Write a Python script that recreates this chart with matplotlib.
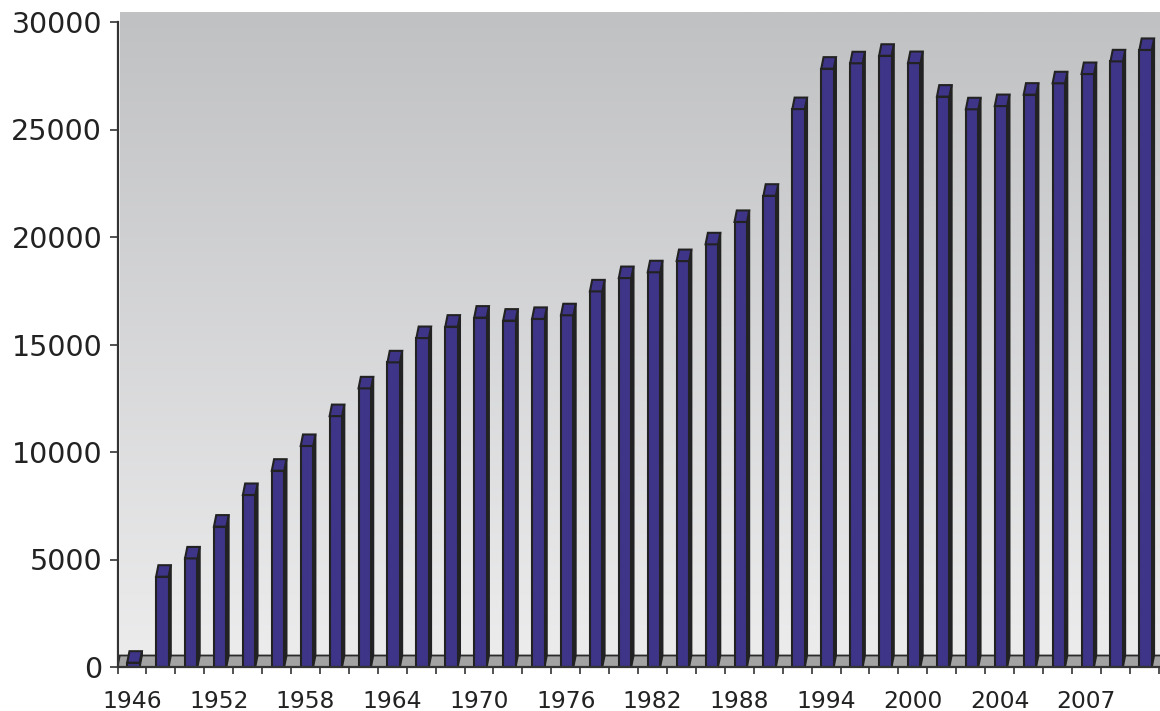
import numpy as np
import matplotlib
matplotlib.use("Agg")
import matplotlib.pyplot as plt
from matplotlib.patches import Polygon

# Category labels (one bar per category) and bar heights
years = [1946, 1948, 1950, 1952, 1954, 1956, 1958, 1960, 1962, 1964,
         1966, 1968, 1970, 1972, 1974, 1976, 1978, 1980, 1982, 1984,
         1986, 1988, 1990, 1992, 1994, 1996, 1998, 2000, 2002, 2003,
         2004, 2005, 2006, 2007, 2008, 2009]
values = [200, 4200, 5050, 6530, 8000, 9130, 10280, 11670, 12960, 14170,
          15300, 15830, 16250, 16110, 16190, 16360, 17470, 18090, 18360, 18880,
          19660, 20700, 21920, 25950, 27830, 28080, 28430, 28090, 26530, 25940,
          26090, 26620, 27150, 27580, 28170, 28700]
y_ticks = [0, 5000, 10000, 15000, 20000, 25000, 30000]
label_every = 3

W, H, DPI = 1160, 711, 100
fig = plt.figure(figsize=(W / DPI, H / DPI), dpi=DPI, facecolor="white")

# plot area in pixels
px_left, px_right = 117.5, 1160.0
px_zero, px_top = 667.0, 12.0
px_30k = 22.0
cat_px = 28.92

n = len(values)
ymax_axis = 30000
units_per_px = ymax_axis / (px_zero - px_30k)
ylim_top = (px_zero - px_top) * units_per_px
xlim_right = -0.5 + (px_right - px_left) / cat_px

ax = fig.add_axes([px_left / W, 1 - px_zero / H,
                   (px_right - px_left) / W, (px_zero - px_top) / H])
ax.set_xlim(-0.5, xlim_right)
ax.set_ylim(0, ylim_top)
ax.set_facecolor("white")

# oblique depth offset
dx = 2.3 / cat_px
dy = 11.5 * units_per_px

# back wall with vertical gradient
top_c = np.array([0xc0, 0xc1, 0xc3]) / 255
bot_c = np.array([0xec, 0xec, 0xed]) / 255
t = np.linspace(0, 1, 256)[:, None]
grad = (top_c[None, :] * (1 - t) + bot_c[None, :] * t)[:, None, :]
ax.imshow(grad, extent=[-0.5 + dx, xlim_right + 1, dy, ylim_top],
          aspect="auto", zorder=0, interpolation="bilinear")

# floor
floor = Polygon([(-0.5, 0), (35.5 + 2, 0), (35.5 + 2 + dx, dy), (-0.5 + dx, dy)],
                closed=True, facecolor="#a3a3a3", edgecolor="#2a2a2a",
                linewidth=1.3, zorder=1)
ax.add_patch(floor)

# bars: front face, right side face, top face
bw = 0.43
shift = 0.05
front_c = "#3e3488"
side_c = "#232036"
edge_c = "#222222"
for i, v in enumerate(values):
    x0 = i + shift - bw / 2
    x1 = i + shift + bw / 2
    side = Polygon([(x1, 0), (x1, v), (x1 + dx, v + dy), (x1 + dx, dy)],
                   closed=True, facecolor=side_c, edgecolor=edge_c,
                   linewidth=1.4, zorder=3)
    front = Polygon([(x0, 0), (x1, 0), (x1, v), (x0, v)], closed=True,
                    facecolor=front_c, edgecolor=edge_c, linewidth=1.5, zorder=4)
    top = Polygon([(x0, v), (x1, v), (x1 + dx, v + dy), (x0 + dx, v + dy)],
                  closed=True, facecolor=front_c, edgecolor=edge_c,
                  linewidth=1.5, zorder=4)
    ax.add_patch(side)
    ax.add_patch(front)
    ax.add_patch(top)

# axes lines
for s in ["top", "right"]:
    ax.spines[s].set_visible(False)
ax.spines["left"].set_bounds(0, ymax_axis)
ax.spines["bottom"].set_bounds(-0.5, 35.5)
for s in ["left", "bottom"]:
    ax.spines[s].set_color("#333333")
    ax.spines[s].set_linewidth(1.6)
    ax.spines[s].set_zorder(6)

ax.set_yticks(y_ticks)
ax.set_yticklabels([str(v) for v in y_ticks])
ax.tick_params(axis="y", direction="out", length=6, width=1.2, color="#333333",
               pad=5, labelsize=20.5, labelcolor="#222222")

major = list(range(0, n, label_every))
ax.set_xticks(major)
ax.set_xticklabels([str(years[i]) for i in major])
ax.set_xticks(np.arange(-0.5, n, 1.0), minor=True)
ax.tick_params(axis="x", which="major", length=0, pad=16.5, labelsize=16.8,
               labelcolor="#222222")
ax.tick_params(axis="x", which="minor", direction="out", length=5, width=1.2,
               color="#333333")

fig.savefig("out.png", dpi=DPI, facecolor="white")
